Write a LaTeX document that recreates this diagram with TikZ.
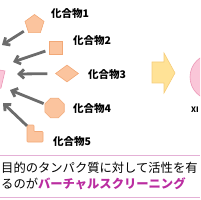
\documentclass[tikz,border=0pt]{standalone}
\usepackage{fontspec}
\newfontfamily\jpfont{Noto Sans CJK JP}
\usepackage{tikz}
\usetikzlibrary{arrows.meta,shapes.geometric}

\definecolor{cmpdfill}{RGB}{251,196,158}
\definecolor{cmpdline}{RGB}{242,168,118}
\definecolor{arrowgray}{RGB}{108,108,108}
\definecolor{protpink}{RGB}{250,198,216}
\definecolor{protline}{RGB}{236,150,182}
\definecolor{blockfill}{RGB}{255,226,150}
\definecolor{blockline}{RGB}{246,204,122}
\definecolor{rulepink}{RGB}{228,176,214}
\definecolor{vsmagenta}{RGB}{186,44,160}

\tikzset{
  cmpd/.style={draw=cmpdline, fill=cmpdfill, line width=0.6pt, inner sep=0pt},
  cmpdlabel/.style={anchor=west, inner sep=0pt, font=\jpfont\bfseries\fontsize{10.5}{12}\selectfont},
  bindarrow/.style={draw=arrowgray, line width=2.8pt, shorten <=4pt,
    -{Straight Barb[length=5pt, width=9pt]}}
}

\begin{document}
\begin{tikzpicture}[x=1pt, y=-1pt]

    % Frame
    \useasboundingbox (0,0) rectangle (200,200);
    \clip (0,0) rectangle (200,200);

    % Target protein (cut at left edge)
    \fill[protpink, draw=protline, line width=0.6pt]
        (-12,68) -- (5,71) -- (1,88) -- (-12,92) -- cycle;

    % Compounds
    \node[cmpd, regular polygon, regular polygon sides=5, minimum size=20pt] (cmpd1) at (34.5,24.5) {};
    \node[cmpd, trapezium, trapezium left angle=65, trapezium right angle=115,
          minimum width=13pt, minimum height=13pt, trapezium stretches body] (cmpd2) at (56,47.5) {};
    \node[cmpd, diamond, minimum width=23pt, minimum height=17pt] (cmpd3) at (67,73.5) {};
    \node[cmpd, regular polygon, regular polygon sides=8, minimum size=21pt] (cmpd4) at (54.5,108) {};
    \coordinate (cmpd5) at (35,133.5);
    \fill[cmpdfill, draw=cmpdline, line width=0.6pt, rounded corners=0.8pt]
        (27,125) -- (34,125) -- (34,131.5) -- (43,131.5) -- (43,142) -- (27,142) -- cycle;

    % Labels
    \node[cmpdlabel] (lab1) at (51,13.5) {化合物1};
    \node[cmpdlabel] (lab2) at (73,41) {化合物2};
    \node[cmpdlabel] (lab3) at (88,75) {化合物3};
    \node[cmpdlabel] (lab4) at (73,109) {化合物4};
    \node[cmpdlabel] (lab5) at (53,141.5) {化合物5};

    % Docking arrows
    \coordinate (tip1) at (2,45);
    \coordinate (tip2) at (13,62);
    \coordinate (tip3) at (17,74);
    \coordinate (tip4) at (10,90);
    \coordinate (tip5) at (3,103);
    \draw[bindarrow] (cmpd1) -- (tip1);
    \draw[bindarrow] (cmpd2) -- (tip2);
    \draw[bindarrow, shorten <=8pt] (cmpd3) -- (tip3);
    \draw[bindarrow, shorten <=1pt] (cmpd4) -- (tip4);
    \draw[bindarrow, shorten <=11pt] (cmpd5) -- (tip5);

    % Block arrow and target
    \fill[blockfill, draw=blockline, line width=0.6pt]
        (152,62) -- (164,62) -- (164,53) -- (175,73) -- (164,93) -- (164,83) -- (152,83) -- cycle;
    \node[circle, fill=protpink, draw=protline, line width=0.6pt, minimum size=46pt] (target) at (213,77) {};
    \node[anchor=west, inner sep=0pt, font=\jpfont\bfseries\fontsize{7.5}{9}\selectfont] (tname) at (191,110) {XI};

    % Caption
    \draw[rulepink, line width=1pt] (0,155) -- (200,155);
    \draw[rulepink, line width=1pt] (0,197) -- (200,197);
    \node[anchor=west, inner sep=0pt, font=\jpfont\fontsize{12.3}{14}\selectfont] (cap1) at (1,167.5)
        {目的のタンパク質に対して活性を有};
    \node[anchor=west, inner sep=0pt, font=\jpfont\fontsize{12.3}{14}\selectfont] (cap2) at (1,184)
        {るのが\textcolor{vsmagenta}{\bfseries バーチャルスクリーニング}};

\end{tikzpicture}
\end{document}
